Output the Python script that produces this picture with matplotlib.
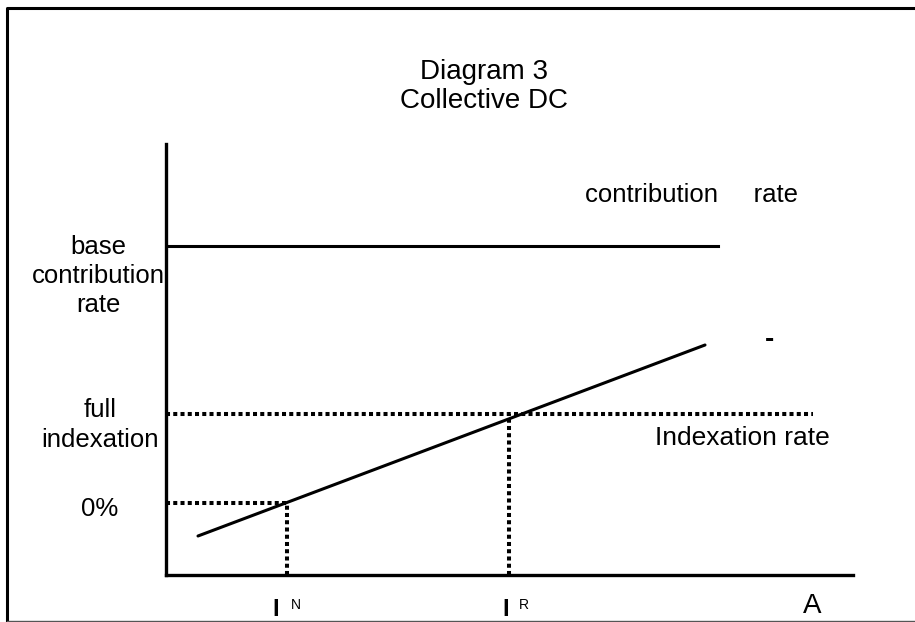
import matplotlib.pyplot as plt
from matplotlib.lines import Line2D

plt.rcParams['font.family'] = ['Liberation Sans', 'DejaVu Sans']

# diagram values (axis units)
contribution_level = 329
contribution_end = 552
index_x = [32, 539]
index_y = [39, 230]
zero_level = 72
full_level = 161
full_end = 647
n_point = 121
r_point = 343
x_max = 687
y_max = 431

W, H = 915, 622
fig = plt.figure(figsize=(W / 100, H / 100), dpi=100)

# outer frame (left/top black, bottom thin grey)
fig.lines.append(Line2D([7 / W, 7 / W, 1.0], [0, 1 - 8 / H, 1 - 8 / H], transform=fig.transFigure,
                        color='black', linewidth=2.2))
fig.lines.append(Line2D([7 / W, 1.0], [1.5 / H, 1.5 / H], transform=fig.transFigure,
                        color='#555555', linewidth=1.0))

ax = fig.add_axes([166 / W, (H - 575) / H, x_max / W, y_max / H])
ax.set_xlim(0, x_max)
ax.set_ylim(0, y_max)
ax.set_xticks([])
ax.set_yticks([])
for s in ['top', 'right']:
    ax.spines[s].set_visible(False)
for s in ['left', 'bottom']:
    ax.spines[s].set_linewidth(2.4)

dots = dict(color='black', linewidth=2.9, linestyle=(0, (1, 0.8)), solid_capstyle='butt')

ax.plot([0, contribution_end], [contribution_level] * 2, color='black', linewidth=2.2)
ax.plot(index_x, index_y, color='black', linewidth=2.2, solid_capstyle='round')
ax.plot([0, full_end], [full_level] * 2, **dots)
ax.plot([r_point, r_point], [0, full_level], **dots)
ax.plot([0, n_point], [zero_level] * 2, **dots)
ax.plot([n_point, n_point], [0, zero_level], **dots)


def txt(x, y, s, size=15, **kw):
    fig.text(x / W, 1 - y / H, s, fontsize=size, va='center', **kw)


txt(484, 72, 'Diagram 3', ha='center', size=20)
txt(484, 101, 'Collective DC', ha='center', size=20)
txt(585, 195, 'contribution     rate', ha='left', size=18.5)
txt(98, 276, 'base\ncontribution\nrate', ha='center', size=18.5, linespacing=1.25)
txt(100, 425, 'full\nindexation', ha='center', size=18.5, linespacing=1.3)
txt(100, 509, '0%', ha='center', size=18.5)
txt(655, 438, 'Indexation rate', ha='left', size=19)
txt(769, 340, '-', ha='center', size=20, fontweight='bold')
txt(812, 606, 'A', ha='center', size=20)

txt(276, 610, 'I', ha='center', size=17, fontweight='bold')
txt(291, 605, 'N', ha='left', size=10)
txt(506, 610, 'I', ha='center', size=17, fontweight='bold')
txt(519, 605, 'R', ha='left', size=10)

fig.savefig('out.png', dpi=100)
